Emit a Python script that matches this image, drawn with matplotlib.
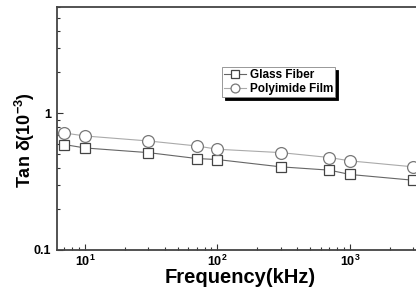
import matplotlib
matplotlib.use("Agg")
import matplotlib.pyplot as plt
import numpy as np

freq = [7, 10, 30, 70, 100, 300, 700, 1000, 3000]
glass_fiber = [0.591, 0.558, 0.516, 0.467, 0.459, 0.406, 0.384, 0.357, 0.324]
polyimide_film = [0.718, 0.683, 0.628, 0.577, 0.546, 0.516, 0.475, 0.449, 0.406]

plt.rcParams['font.family'] = 'Liberation Sans'
plt.rcParams['font.weight'] = 'bold'
plt.rcParams['mathtext.fontset'] = 'custom'
plt.rcParams['mathtext.rm'] = 'Liberation Sans:bold'
plt.rcParams['mathtext.it'] = 'Liberation Sans:bold'
plt.rcParams['mathtext.bf'] = 'Liberation Sans:bold'
plt.rcParams['mathtext.default'] = 'rm'

fig = plt.figure(figsize=(4.16, 2.97), dpi=100)
W, H = 416, 297
x0, x1 = 57, 482.5
y0, y1 = 250, 7
ax = fig.add_axes([x0 / W, (H - y0) / H, (x1 - x0) / W, (y0 - y1) / H])

ax.plot(freq, glass_fiber, color='#666666', lw=0.8, marker='s', ms=7,
        mfc='white', mec='#444444', mew=0.9, label='Glass Fiber')
ax.plot(freq, polyimide_film, color='#aaaaaa', lw=0.8, marker='o', ms=8.5,
        mfc='white', mec='#777777', mew=0.9, label='Polyimide Film')

ax.set_xscale('log')
ax.set_yscale('log')
ax.set_xlim(6.15, 10000)
ax.set_ylim(0.1, 6)

ax.set_xticks([10, 100, 1000])
ax.set_xticklabels([r'$10^{1}$', r'$10^{2}$', r'$10^{3}$'])
ax.set_yticks([0.1, 1])
ax.set_yticklabels(['0.1', '1'])
ax.yaxis.set_minor_formatter(matplotlib.ticker.NullFormatter())
ax.xaxis.set_minor_formatter(matplotlib.ticker.NullFormatter())

ax.tick_params(which='both', direction='in', top=False, right=False,
               labelsize=9, color='#333333', width=0.8)
ax.tick_params(which='major', length=4)
ax.tick_params(which='minor', length=2)
ax.tick_params(axis='x', pad=2.5)
ax.tick_params(axis='y', pad=4)

for s in ax.spines.values():
    s.set_color('#444444')
    s.set_linewidth(1.3)

ax.set_xlabel('Frequency(kHz)', fontsize=14.5, fontweight='bold')
ax.xaxis.set_label_coords((240 - x0) / (x1 - x0), -(268 - y0) / (y0 - y1), transform=ax.transAxes)
ax.xaxis.label.set_verticalalignment('top')

ax.set_ylabel(r'Tan $\delta$(10$^{-3}$)', fontsize=13, fontweight='bold')
ax.yaxis.set_label_coords(-(57 - 25) / (x1 - x0), (y0 - 140) / (y0 - y1), transform=ax.transAxes)
ax.yaxis.label.set_verticalalignment('center')

leg = ax.legend(loc='upper left', bbox_to_anchor=((222 - x0) / (x1 - x0), (y0 - 67) / (y0 - y1)),
                borderaxespad=0, fontsize=8.5, frameon=True, fancybox=False,
                shadow={'color': 'black', 'alpha': 1}, handlelength=1.9,
                handletextpad=0.3, borderpad=0.15, labelspacing=0.2, markerscale=0.75)
leg.get_frame().set_edgecolor('#888888')
leg.get_frame().set_linewidth(0.6)
for t in leg.get_texts():
    t.set_fontweight('bold')

fig.savefig('out.png', dpi=100)
